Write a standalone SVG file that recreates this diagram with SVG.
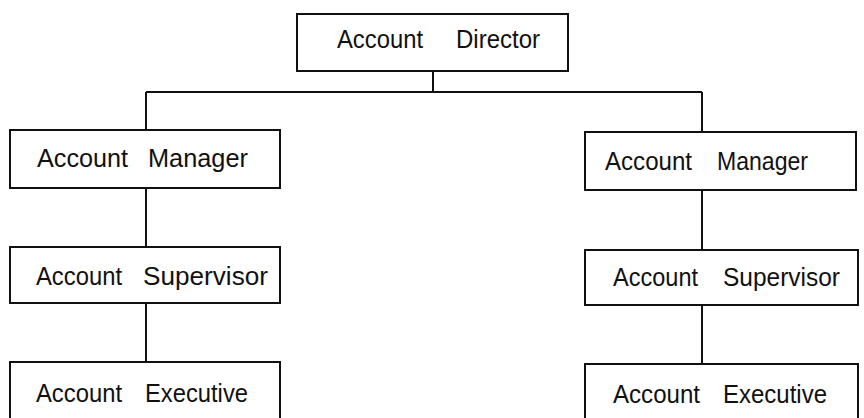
<svg xmlns="http://www.w3.org/2000/svg" width="864" height="418" viewBox="0 0 864 418">
<style>
.box{fill:#fff;stroke:#111;stroke-width:2}
.ln{fill:none;stroke:#111;stroke-width:2}
text{font-family:"Liberation Sans",Arial,sans-serif;font-size:26px;fill:#111}
</style>
<rect width="864" height="418" fill="#fff"/>
<g id="connectors">
<path class="ln" d="M433 71V92M146 92H702M146 92V130M702 92V132M146 188V247M146 303V362M702 190V250M702 305V364"/>
</g>
<g id="director">
<rect class="box" x="297" y="14" width="271" height="57"/>
<text x="337" y="48" textLength="86" lengthAdjust="spacingAndGlyphs">Account</text>
<text x="456" y="48" textLength="84" lengthAdjust="spacingAndGlyphs">Director</text>
</g>
<g id="manager-left">
<rect class="box" x="10" y="130" width="270" height="58"/>
<text x="37" y="167" textLength="91" lengthAdjust="spacingAndGlyphs">Account</text>
<text x="148" y="167" textLength="100" lengthAdjust="spacingAndGlyphs">Manager</text>
</g>
<g id="supervisor-left">
<rect class="box" x="10" y="247" width="270" height="56"/>
<text x="36" y="285" textLength="86" lengthAdjust="spacingAndGlyphs">Account</text>
<text x="143" y="285" textLength="125" lengthAdjust="spacingAndGlyphs">Supervisor</text>
</g>
<g id="executive-left">
<rect class="box" x="10" y="362" width="270" height="70"/>
<text x="36" y="402" textLength="86" lengthAdjust="spacingAndGlyphs">Account</text>
<text x="145" y="402" textLength="103" lengthAdjust="spacingAndGlyphs">Executive</text>
</g>
<g id="manager-right">
<rect class="box" x="585" y="132" width="271" height="58"/>
<text x="605" y="170" textLength="87" lengthAdjust="spacingAndGlyphs">Account</text>
<text x="717" y="170" textLength="91" lengthAdjust="spacingAndGlyphs">Manager</text>
</g>
<g id="supervisor-right">
<rect class="box" x="585" y="250" width="273" height="55"/>
<text x="613" y="286" textLength="85" lengthAdjust="spacingAndGlyphs">Account</text>
<text x="723" y="286" textLength="117" lengthAdjust="spacingAndGlyphs">Supervisor</text>
</g>
<g id="executive-right">
<rect class="box" x="585" y="364" width="273" height="70"/>
<text x="613" y="403" textLength="87" lengthAdjust="spacingAndGlyphs">Account</text>
<text x="723" y="403" textLength="104" lengthAdjust="spacingAndGlyphs">Executive</text>
</g>
</svg>
